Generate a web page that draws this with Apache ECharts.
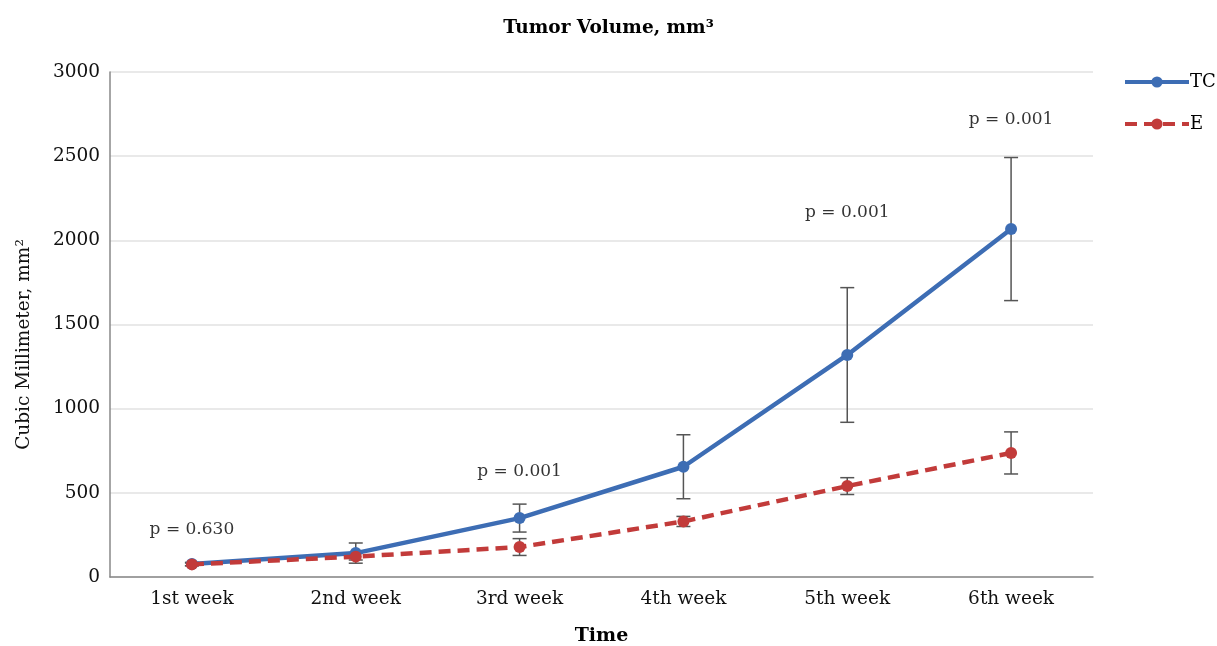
<!DOCTYPE html>
<html>
<head>
<meta charset="utf-8">
<script src="https://cdn.jsdelivr.net/npm/echarts@6/dist/echarts.min.js"></script>
<style>
  html, body { margin: 0; padding: 0; background: #fff; }
  #chart { width: 1217px; height: 646px; }
</style>
</head>
<body>
<div id="chart"></div>
<script>
// values
var weeks = ['1st week', '2nd week', '3rd week', '4th week', '5th week', '6th week'];
var tcMean = [77, 142, 350, 655, 1319, 2067];
var tcErr  = [10, 60, 83, 190, 400, 425];
var eMean  = [75, 121, 178, 330, 540, 737];
var eErr   = [8, 20, 50, 30, 50, 125];
var pWeek  = [0, 2, 4, 5];
var pLevel = [279, 624, 2162, 2715];
var pText  = ['p = 0.630', 'p = 0.001', 'p = 0.001', 'p = 0.001'];

var serif = 'DejaVu Serif';

function errData(mean, err) {
  var out = [];
  for (var i = 0; i < mean.length; i++) {
    out.push([i, mean[i] - err[i], mean[i] + err[i]]);
  }
  return out;
}

function renderErr(params, api) {
  var lo = api.coord([api.value(0), api.value(1)]);
  var hi = api.coord([api.value(0), api.value(2)]);
  var w = 7;
  var st = { stroke: '#555', lineWidth: 1.5 };
  return {
    type: 'group',
    children: [
      { type: 'line', shape: { x1: lo[0], y1: lo[1], x2: hi[0], y2: hi[1] }, style: st },
      { type: 'line', shape: { x1: lo[0] - w, y1: lo[1], x2: lo[0] + w, y2: lo[1] }, style: st },
      { type: 'line', shape: { x1: hi[0] - w, y1: hi[1], x2: hi[0] + w, y2: hi[1] }, style: st }
    ]
  };
}

var pData = [];
for (var k = 0; k < pWeek.length; k++) {
  pData.push([pWeek[k], pLevel[k], pText[k]]);
}

var myChart = echarts.init(document.getElementById('chart'));
var option = {
  animation: false,
  title: {
    text: 'Tumor Volume, mm\u00b3',
    left: 'center',
    top: 14,
    textStyle: { fontFamily: serif, fontSize: 18.5, fontWeight: 'bold', color: '#000' }
  },
  legend: {
    orient: 'vertical',
    left: 1118,
    top: 68,
    itemWidth: 64,
    itemHeight: 14,
    itemGap: 24,
    data: ['TC', 'E'],
    lineStyle: { width: 4 },
    textStyle: { fontFamily: serif, fontSize: 18, color: '#000', padding: [0, 0, 0, -4] }
  },
  grid: { left: 110, right: 124, top: 72, bottom: 69, containLabel: false, outerBoundsMode: 'none' },
  xAxis: {
    type: 'category',
    data: weeks,
    boundaryGap: true,
    name: 'Time',
    nameLocation: 'middle',
    nameGap: 50,
    nameTextStyle: { fontFamily: serif, fontSize: 19, fontWeight: 'bold', color: '#000' },
    axisLine: { lineStyle: { color: '#888', width: 1.5 } },
    axisTick: { show: false },
    axisLabel: { fontFamily: serif, fontSize: 18.5, color: '#111', margin: 13 }
  },
  yAxis: {
    type: 'value',
    min: 0,
    max: 3000,
    interval: 500,
    name: 'Cubic Millimeter, mm\u00b2',
    nameLocation: 'middle',
    nameGap: 76,
    nameTextStyle: { fontFamily: serif, fontSize: 18.5, color: '#111', padding: [0, 0, 0, -40] },
    axisLine: { show: true, lineStyle: { color: '#888', width: 1.5 } },
    axisTick: { show: false },
    axisLabel: {
      fontFamily: serif, fontSize: 18.5, color: '#111', margin: 10,
      formatter: function (v) { return String(v); }
    },
    splitLine: { lineStyle: { color: '#e2e2e2', width: 1.5 } }
  },
  series: [
    {
      name: 'TCerr',
      type: 'custom',
      renderItem: renderErr,
      data: errData(tcMean, tcErr),
      z: 1,
      silent: true
    },
    {
      name: 'Eerr',
      type: 'custom',
      renderItem: renderErr,
      data: errData(eMean, eErr),
      z: 1,
      silent: true
    },
    {
      name: 'TC',
      type: 'line',
      data: tcMean,
      symbol: 'circle',
      symbolSize: 12,
      color: '#3d6db4',
      lineStyle: { width: 4.5, color: '#3d6db4' },
      z: 3
    },
    {
      name: 'E',
      type: 'line',
      data: eMean,
      symbol: 'circle',
      symbolSize: 12,
      color: '#c23b3a',
      lineStyle: { width: 4.5, color: '#c23b3a', type: [12, 7] },
      z: 4
    },
    {
      name: 'p',
      type: 'scatter',
      data: pData,
      symbolSize: 0,
      silent: true,
      label: {
        show: true,
        position: 'inside',
        formatter: function (p) { return p.data[2]; },
        fontFamily: serif,
        fontSize: 17,
        color: '#000'
      }
    }
  ]
};
myChart.setOption(option);
</script>
</body>
</html>
